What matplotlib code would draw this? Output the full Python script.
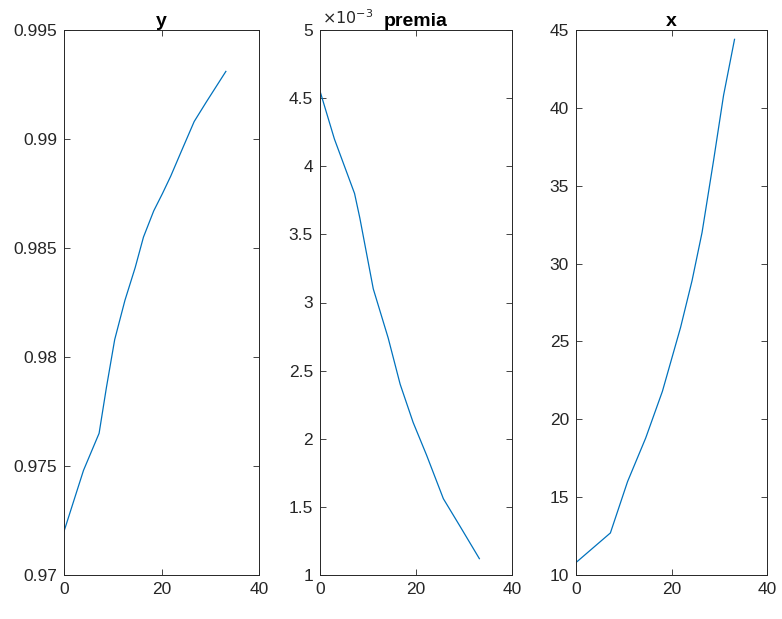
import matplotlib
matplotlib.use("Agg")
import matplotlib.pyplot as plt
from matplotlib.ticker import FuncFormatter

# values
t_y = [0, 2, 4, 7.2, 8.7, 10.4, 12.5, 14.6, 16.3, 18.4, 20.2, 21.9, 24.0, 26.7, 29.2, 31.2, 33.2]
y = [0.9720, 0.9734, 0.9748, 0.9765, 0.9786, 0.9808, 0.9826, 0.9841, 0.9855,
     0.9867, 0.9875, 0.9883, 0.9894, 0.9908, 0.9917, 0.9924, 0.9931]

t_p = [0, 3, 7.2, 8.3, 11.1, 14.2, 16.7, 19.4, 22.2, 25.7, 29.2, 33.2]
premia = [4.552e-3, 4.20e-3, 3.80e-3, 3.62e-3, 3.10e-3, 2.74e-3, 2.40e-3,
          2.12e-3, 1.88e-3, 1.56e-3, 1.356e-3, 1.12e-3]

t_x = [0, 7.2, 10.8, 14.6, 18.1, 21.9, 24.3, 26.4, 28.8, 30.9, 33.2]
x = [10.8, 12.7, 16.0, 18.8, 21.8, 25.9, 28.9, 32.0, 36.6, 40.8, 44.4]

plt.rcParams['font.family'] = ['Liberation Sans', 'DejaVu Sans']
dark = '#262626'
line_col = '#0072BD'

fig = plt.figure(figsize=(7.82, 6.19), dpi=100)
W, H = 782, 619
bottom, top = 575, 30
boxes = [(64, 259), (320, 512), (576, 767)]

axes = []
for l, r in boxes:
    ax = fig.add_axes([l / W, 1 - bottom / H, (r - l) / W, (bottom - top) / H])
    axes.append(ax)

ax1, ax2, ax3 = axes
ax1.plot(t_y, y, color=line_col, lw=0.9)
ax1.set_ylim(0.97, 0.995)
ax1.set_yticks([0.97, 0.975, 0.98, 0.985, 0.99, 0.995])
ax1.set_yticklabels(['0.97', '0.975', '0.98', '0.985', '0.99', '0.995'])
ax1.set_title('y', fontweight='bold', fontsize=14, pad=3)

ax2.plot(t_p, premia, color=line_col, lw=0.9)
ax2.set_ylim(1e-3, 5e-3)
ax2.set_yticks([1e-3, 1.5e-3, 2e-3, 2.5e-3, 3e-3, 3.5e-3, 4e-3, 4.5e-3, 5e-3])
ax2.yaxis.set_major_formatter(FuncFormatter(lambda v, p: ('%g' % round(v * 1e3, 3))))
ax2.set_title('premia', fontweight='bold', fontsize=14, pad=3)
ax2.text(0.01, 1.006, r'$\times10^{-3}$', transform=ax2.transAxes,
         ha='left', va='bottom', fontsize=11.5, color=dark)

ax3.plot(t_x, x, color=line_col, lw=0.9)
ax3.set_ylim(10, 45)
ax3.set_yticks([10, 15, 20, 25, 30, 35, 40, 45])
ax3.set_title('x', fontweight='bold', fontsize=14, pad=3)

for ax in axes:
    ax.set_xlim(0, 40)
    ax.set_xticks([0, 20, 40])
    ax.tick_params(direction='in', length=4, width=0.6, colors=dark,
                   labelsize=12.5, top=True, right=True, pad=5)
    for s in ax.spines.values():
        s.set_color(dark)
        s.set_linewidth(0.7)

fig.savefig('out.png', dpi=100)
